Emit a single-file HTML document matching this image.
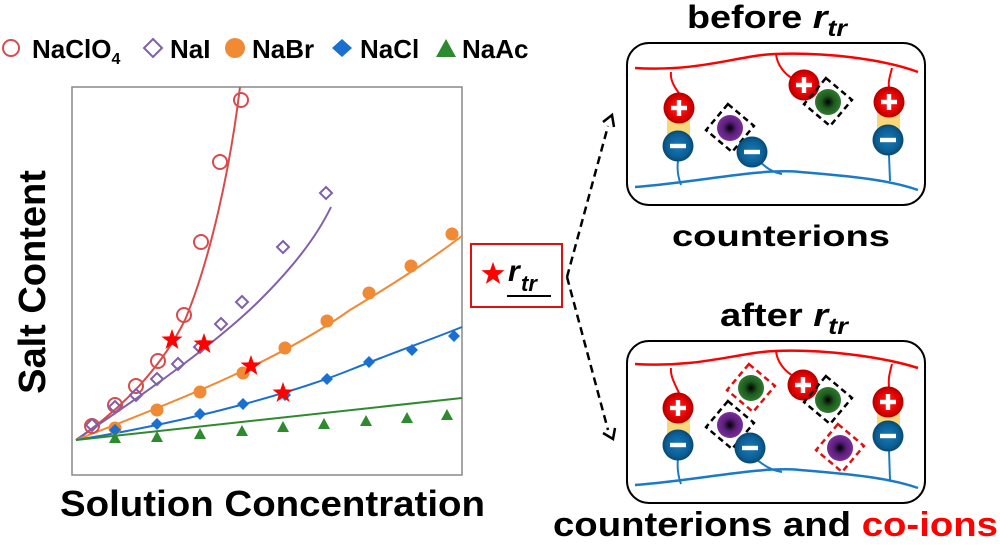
<!DOCTYPE html>
<html><head><meta charset="utf-8"><style>
html,body{margin:0;padding:0;background:#fff;}
svg{display:block;}
text{font-family:"Liberation Sans",Arial,sans-serif;font-weight:bold;}
</style></head><body>
<svg width="1000" height="546" viewBox="0 0 1000 546" xmlns="http://www.w3.org/2000/svg">
<defs>
<radialGradient id="gp" cx="50%" cy="50%" r="50%"><stop offset="0" stop-color="#ff2a2a"/><stop offset="0.7" stop-color="#e00000"/><stop offset="1" stop-color="#b00000"/></radialGradient>
<radialGradient id="gm" cx="50%" cy="50%" r="50%"><stop offset="0" stop-color="#1a7ab8"/><stop offset="0.75" stop-color="#0b5e94"/><stop offset="1" stop-color="#064870"/></radialGradient>
<radialGradient id="gg" cx="50%" cy="50%" r="50%"><stop offset="0" stop-color="#000"/><stop offset="0.5" stop-color="#1f5a1f"/><stop offset="1" stop-color="#2e7a2e"/></radialGradient>
<radialGradient id="gv" cx="50%" cy="50%" r="50%"><stop offset="0" stop-color="#000"/><stop offset="0.5" stop-color="#5a1f7a"/><stop offset="1" stop-color="#7a2e9a"/></radialGradient>
<g id="plus"><circle r="15.5" fill="url(#gp)"/><rect x="-8" y="-2.2" width="16" height="4.4" fill="#fff"/><rect x="-2.2" y="-8" width="4.4" height="16" fill="#fff"/></g>
<g id="minus"><circle r="15.5" fill="url(#gm)"/><rect x="-8" y="-2.2" width="16" height="4.4" fill="#fff"/></g>
<g id="green"><circle r="13" fill="url(#gg)"/></g>
<g id="purp"><circle r="13" fill="url(#gv)"/></g>
<rect id="bbox" x="-17" y="-17" width="34" height="34" fill="none" stroke="#000" stroke-width="2.5" stroke-dasharray="6,4"/>
<rect id="rbox" x="-17" y="-17" width="34" height="34" fill="none" stroke="#e01010" stroke-width="2.5" stroke-dasharray="6,4"/>
<polygon id="star" points="0,-11 2.6,-3.6 10.5,-3.4 4.2,1.4 6.5,9 0,4.5 -6.5,9 -4.2,1.4 -10.5,-3.4 -2.6,-3.6" fill="#f00"/>
</defs>

<!-- Legend -->
<circle cx="11" cy="48" r="8" fill="none" stroke="#d94b4b" stroke-width="2"/>
<text x="32" y="58" font-size="26">NaClO<tspan font-size="16" dy="6">4</tspan></text>
<polygon points="153,39 162,48 153,57 144,48" fill="none" stroke="#8060a8" stroke-width="2"/>
<text x="170" y="58" font-size="26">NaI</text>
<circle cx="235" cy="48" r="10" fill="#f08a34"/>
<text x="252" y="58" font-size="26">NaBr</text>
<polygon points="342,39 352,48 342,57 332,48" fill="#1a6fcf"/>
<text x="360" y="58" font-size="26">NaCl</text>
<polygon points="446,39 456,57 436,57" fill="#2e8a2e"/>
<text x="462" y="58" font-size="26">NaAc</text>

<!-- plot frame -->
<rect x="72" y="87" width="390" height="388" fill="none" stroke="#888" stroke-width="1.5"/>
<text transform="translate(45,282) rotate(-90)" font-size="38" text-anchor="middle">Salt Content</text>
<text x="60" y="516" font-size="36" textLength="425" lengthAdjust="spacingAndGlyphs">Solution Concentration</text>

<!-- curves -->
<path d="M76,440 C120,410 160,370 185,320 C210,260 230,170 240,87" fill="none" stroke="#d94b4b" stroke-width="2"/>
<path d="M76,440 C150,390 220,340 260,300 C290,270 315,240 331,207" fill="none" stroke="#8060a8" stroke-width="2"/>
<path d="M76,440 C180,400 280,360 350,310 C400,280 430,260 462,236" fill="none" stroke="#f08a34" stroke-width="2"/>
<path d="M76,440 C200,420 300,390 350,370 C400,350 430,340 462,327" fill="none" stroke="#1a6fcf" stroke-width="2"/>
<path d="M76,440 L462,398" fill="none" stroke="#2e8a2e" stroke-width="2"/>

<g fill="none" stroke="#d94b4b" stroke-width="2">
<circle cx="92" cy="426" r="7"/><circle cx="115" cy="405" r="7"/><circle cx="136" cy="386" r="7"/><circle cx="158" cy="361" r="7"/><circle cx="184" cy="315" r="7"/><circle cx="201" cy="242" r="7"/><circle cx="220" cy="162" r="7"/><circle cx="241" cy="100" r="7"/>
</g>
<g fill="none" stroke="#8060a8" stroke-width="2">
<polygon points="92,419 98,425 92,431 86,425"/><polygon points="115,401 121,407 115,413 109,407"/><polygon points="136,389 142,395 136,401 130,395"/><polygon points="157,373 163,379 157,385 151,379"/><polygon points="178,358 184,364 178,370 172,364"/><polygon points="200,341 206,347 200,353 194,347"/><polygon points="221,318 227,324 221,330 215,324"/><polygon points="242,296 248,302 242,308 236,302"/><polygon points="283,241 289,247 283,253 277,247"/><polygon points="326,187 332,193 326,199 320,193"/>
</g>
<g fill="#f08a34">
<circle cx="115" cy="428" r="6.5"/><circle cx="157" cy="410" r="6.5"/><circle cx="200" cy="392" r="6.5"/><circle cx="243" cy="373" r="6.5"/><circle cx="285" cy="348" r="6.5"/><circle cx="327" cy="321" r="6.5"/><circle cx="369" cy="293" r="6.5"/><circle cx="411" cy="266" r="6.5"/><circle cx="452" cy="234" r="6.5"/>
</g>
<g fill="#1a6fcf">
<polygon points="115,424 121,430 115,436 109,430"/><polygon points="157,418 163,424 157,430 151,424"/><polygon points="200,408 206,414 200,420 194,414"/><polygon points="243,398 249,404 243,410 237,404"/><polygon points="285,389 291,395 285,401 279,395"/><polygon points="327,373 333,379 327,385 321,379"/><polygon points="369,356 375,362 369,368 363,362"/><polygon points="412,344 418,350 412,356 406,350"/><polygon points="454,330 460,336 454,342 448,336"/>
</g>
<g fill="#2e8a2e">
<polygon points="115,432 121,443 109,443"/><polygon points="157,431 163,442 151,442"/><polygon points="200,428 206,439 194,439"/><polygon points="242,425 248,436 236,436"/><polygon points="283,421 289,432 277,432"/><polygon points="324,418 330,429 318,429"/><polygon points="366,415 372,426 360,426"/><polygon points="407,412 413,423 401,423"/><polygon points="447,409 453,420 441,420"/>
</g>
<use href="#star" x="172" y="340"/><use href="#star" x="204" y="344"/><use href="#star" x="251" y="366"/><use href="#star" x="283" y="393"/>

<!-- r_tr box -->
<rect x="471" y="244" width="91" height="63" fill="none" stroke="#e01010" stroke-width="2"/>
<use href="#star" x="493" y="274" transform="translate(-49.3,-27.4) scale(1.1)"/>
<text x="508" y="281" font-size="30" font-style="italic">r</text>
<text x="521" y="291" font-size="22" font-style="italic">tr</text>
<line x1="507" y1="296" x2="551" y2="296" stroke="#000" stroke-width="2"/>

<!-- arrows -->
<path d="M567,277 L608,126" stroke="#000" stroke-width="2.5" stroke-dasharray="8,5" fill="none"/>
<path d="M603,122 L612,115 L614,127" stroke="#000" stroke-width="2.5" fill="none"/>
<path d="M567,277 L608,430" stroke="#000" stroke-width="2.5" stroke-dasharray="8,5" fill="none"/>
<path d="M603,433 L613,439 L615,428" stroke="#000" stroke-width="2.5" fill="none"/>

<!-- before -->
<text x="687" y="28" font-size="32" textLength="160" lengthAdjust="spacingAndGlyphs">before <tspan font-style="italic">r</tspan><tspan font-style="italic" font-size="23" dy="8">tr</tspan></text>
<rect x="627" y="43" width="298" height="162" rx="22" fill="none" stroke="#000" stroke-width="2"/>
<path d="M635,68 C700,72 740,55 775,54 C820,52 880,58 918,72" stroke="#f00" stroke-width="2.5" fill="none"/>
<path d="M635,187 C700,182 760,168 800,172 C850,176 890,180 918,190" stroke="#1a7ac8" stroke-width="2.5" fill="none"/>
<path d="M671,72 C670,80 675,88 679,93 M776,54 C777,65 785,75 795,80 M892,68 C890,76 888,82 889,87" stroke="#f00" stroke-width="2" fill="none"/>
<path d="M681,185 C678,177 677,168 678,161 M782,174 C770,172 764,165 760,162 M890,181 L889,155" stroke="#1a7ac8" stroke-width="2" fill="none"/>
<rect x="667" y="108" width="23" height="38" fill="#f7d77a"/>
<rect x="877" y="102" width="23" height="38" fill="#f7d77a"/>
<use href="#plus" x="679" y="108"/><use href="#minus" x="678" y="146"/>
<use href="#plus" x="889" y="102"/><use href="#minus" x="888" y="140"/>
<g transform="rotate(40 730 128)"><use href="#bbox" x="730" y="128"/></g>
<use href="#purp" x="730" y="128"/>
<use href="#minus" x="752" y="152"/>
<use href="#plus" x="804" y="85"/>
<g transform="rotate(40 828 102)"><use href="#bbox" x="828" y="102"/></g>
<use href="#green" x="828" y="102"/>
<text x="672" y="246" font-size="30" textLength="218" lengthAdjust="spacingAndGlyphs">counterions</text>

<!-- after -->
<text x="720" y="326" font-size="32" textLength="128" lengthAdjust="spacingAndGlyphs">after <tspan font-style="italic">r</tspan><tspan font-style="italic" font-size="23" dy="8">tr</tspan></text>
<rect x="627" y="341" width="298" height="162" rx="22" fill="none" stroke="#000" stroke-width="2"/>
<path d="M635,364 C700,368 740,352 775,351 C820,349 880,356 918,368" stroke="#f00" stroke-width="2.5" fill="none"/>
<path d="M635,485 C700,480 760,466 800,470 C850,474 890,478 918,488" stroke="#1a7ac8" stroke-width="2.5" fill="none"/>
<path d="M671,368 C670,376 675,384 679,393 M776,351 C777,362 785,372 795,377 M892,364 C890,372 888,378 889,387" stroke="#f00" stroke-width="2" fill="none"/>
<path d="M681,484 C678,476 677,466 678,459 M782,472 C770,470 764,465 757,460 M890,480 L889,450" stroke="#1a7ac8" stroke-width="2" fill="none"/>
<rect x="667" y="408" width="23" height="38" fill="#f7d77a"/>
<rect x="877" y="402" width="23" height="36" fill="#f7d77a"/>
<use href="#plus" x="678" y="408"/><use href="#minus" x="678" y="445"/>
<use href="#plus" x="888" y="402"/><use href="#minus" x="888" y="436"/>
<g transform="rotate(40 751 388)"><use href="#rbox" x="751" y="388"/></g>
<use href="#green" x="751" y="388"/>
<g transform="rotate(40 730 425)"><use href="#bbox" x="730" y="425"/></g>
<use href="#purp" x="730" y="425"/>
<use href="#minus" x="750" y="448"/>
<use href="#plus" x="803" y="385"/>
<g transform="rotate(40 828 400)"><use href="#bbox" x="828" y="400"/></g>
<use href="#green" x="828" y="400"/>
<g transform="rotate(40 840 448)"><use href="#rbox" x="840" y="448"/></g>
<use href="#purp" x="840" y="448"/>
<text x="553" y="536" font-size="34" textLength="445" lengthAdjust="spacingAndGlyphs">counterions and <tspan fill="#f00">co-ions</tspan></text>
</svg>
</body></html>
